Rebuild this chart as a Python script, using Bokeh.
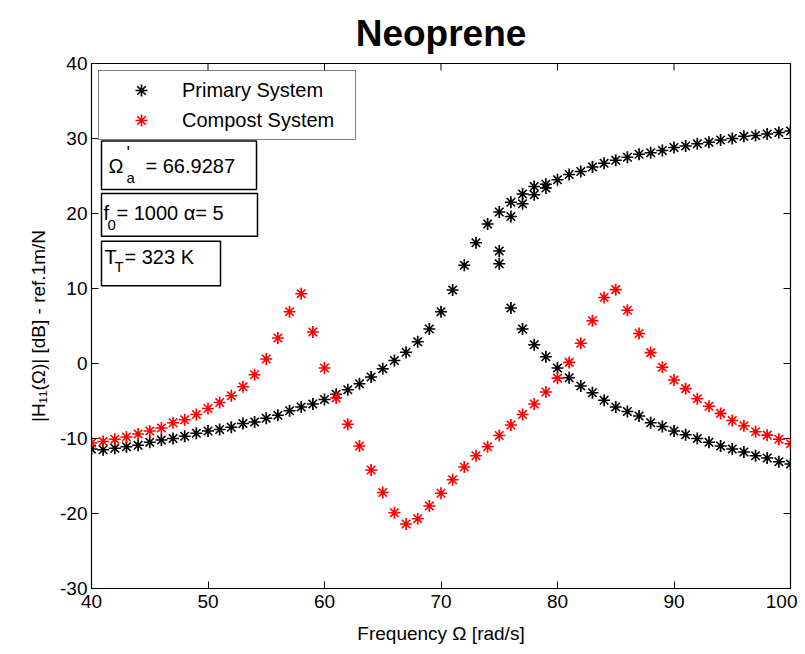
from bokeh.plotting import figure
from bokeh.models import (Range1d, FixedTicker, Legend, LegendItem,
                          BoxAnnotation, Label)
from bokeh.embed import file_html
from bokeh.resources import INLINE

# ---------------- data ----------------
freq = list(range(40, 101))

primary_main = [-11.4, -11.5, -11.3, -11.1, -10.9, -10.5, -10.2, -10.0, -9.7, -9.3,
                -9.0, -8.8, -8.5, -8.0, -7.8, -7.3, -6.9, -6.3, -5.8, -5.4,
                -4.8, -4.1, -3.5, -2.7, -1.8, -0.7, 0.4, 1.5, 2.9, 4.6,
                6.9, 9.8, 13.1, 16.1, 18.6, 20.2, 21.5, 22.6, 23.6, 23.9,
                24.5, 25.2, 25.6, 26.2, 26.7, 27.1, 27.5, 27.9, 28.1, 28.4,
                28.8, 29.0, 29.3, 29.5, 29.8, 30.0, 30.3, 30.4, 30.6, 30.8,
                31.0]

primary_mid_freq = [75, 76, 77, 78, 79]
primary_mid = [15.0, 19.6, 21.3, 22.5, 23.4]

primary_low_freq = list(range(75, 101))
primary_low = [13.3, 7.4, 4.6, 2.5, 0.9, -0.6, -1.9, -3.0, -3.9, -4.9,
               -5.8, -6.4, -7.0, -7.9, -8.4, -9.0, -9.5, -10.0, -10.5, -11.0,
               -11.4, -11.8, -12.3, -12.6, -13.1, -13.4]

compost = [-10.6, -10.4, -10.1, -9.8, -9.4, -9.0, -8.6, -7.9, -7.5, -6.8,
           -6.0, -5.2, -4.3, -3.1, -1.5, 0.6, 3.4, 6.9, 9.3, 4.2,
           -0.6, -4.6, -8.1, -11.0, -14.2, -17.2, -19.9, -21.4, -20.7, -19.0,
           -17.3, -15.5, -13.8, -12.3, -11.1, -9.6, -8.2, -6.8, -5.4, -3.8,
           -1.95, 0.15, 2.7, 5.7, 8.8, 9.85, 7.1, 4.0, 1.45, -0.5,
           -2.2, -3.35, -4.7, -5.7, -6.65, -7.6, -8.3, -9.1, -9.55, -10.1,
           -10.7]

x_ticks = [40, 50, 60, 70, 80, 90, 100]
y_ticks = [-30, -20, -10, 0, 10, 20, 30, 40]

title_text = "Neoprene"
x_label = "Frequency Ω [rad/s]"
y_label = "|H₁₁(Ω)| [dB] - ref.1m/N"
legend_labels = ["Primary System", "Compost System"]

# ---------------- layout helpers (screen px -> data) ----------------
FX0, FX1, FY0, FY1 = 91, 790, 60, 589
X_MIN, X_MAX, Y_MIN, Y_MAX = 40, 100, -30, 40
TICK = 7


def dx(px):
    return X_MIN + (px - FX0) * (X_MAX - X_MIN) / (FX1 - FX0)


def dy(py):
    return Y_MAX - (py - FY0) * (Y_MAX - Y_MIN) / (FY1 - FY0)


FONT = "Liberation Sans"

p = figure(width=797, height=646, output_backend="svg", toolbar_location=None,
           x_range=Range1d(X_MIN, X_MAX), y_range=Range1d(Y_MIN, Y_MAX),
           min_border_left=FX0, min_border_right=797 - FX1, min_border_top=FY0,
           min_border_bottom=646 - FY1)
p.grid.visible = False
p.outline_line_color = "black"
p.outline_line_width = 1.2
p.background_fill_color = "white"
p.border_fill_color = "white"

p.title.text = title_text
p.title.text_font = FONT
p.title.text_font_size = "37px"
p.title.text_font_style = "bold"
p.title.align = "center"
p.title.text_color = "black"
p.title.standoff = 20

for ax, ticks in ((p.xaxis[0], x_ticks), (p.yaxis[0], y_ticks)):
    ax.ticker = FixedTicker(ticks=ticks)
    ax.major_label_overrides = {t: str(t) for t in ticks}
    ax.major_tick_in = TICK
    ax.major_tick_out = 0
    ax.minor_tick_line_color = None
    ax.major_label_text_font = FONT
    ax.major_label_text_font_size = "19px"
    ax.major_label_text_color = "black"
    ax.axis_line_color = "black"
    ax.major_tick_line_color = "black"
    ax.axis_label_text_font = FONT
    ax.axis_label_text_font_size = "19px"
    ax.axis_label_text_font_style = "normal"
    ax.axis_label_text_color = "black"
p.xaxis[0].major_label_standoff = 6
p.yaxis[0].major_label_standoff = 4
p.xaxis[0].axis_label = x_label
p.yaxis[0].axis_label = y_label
p.xaxis[0].axis_label_standoff = 12
p.yaxis[0].axis_label_standoff = 8

# inward ticks on the right and top edges of the box
p.segment(x0=[X_MAX] * len(y_ticks), y0=y_ticks, x1=[dx(FX1 - TICK)] * len(y_ticks),
          y1=y_ticks, line_color="black", line_width=1)
p.segment(x0=x_ticks, y0=[Y_MAX] * len(x_ticks), x1=x_ticks,
          y1=[dy(FY0 + TICK)] * len(x_ticks), line_color="black", line_width=1)

r1 = p.scatter(freq, primary_main, marker="asterisk", size=12, line_color="black",
               line_width=1.7)
p.scatter(primary_mid_freq, primary_mid, marker="asterisk", size=12, line_color="black",
          line_width=1.7)
p.scatter(primary_low_freq, primary_low, marker="asterisk", size=12, line_color="black",
          line_width=1.7)
r2 = p.scatter(freq, compost, marker="asterisk", size=12, line_color="#ff0000",
               line_width=1.7)

legend = Legend(items=[LegendItem(label=legend_labels[0], renderers=[r1]),
                       LegendItem(label=legend_labels[1], renderers=[r2])],
                location="top_left", margin=7, padding=4, spacing=0,
                glyph_height=30, glyph_width=76, label_standoff=3,
                label_height=30, label_width=169,
                label_text_font=FONT, label_text_font_size="20px",
                label_text_color="black",
                border_line_color="black", border_line_width=1.5,
                background_fill_color="white", background_fill_alpha=1.0)
p.add_layout(legend, "center")

# info boxes
for (l, t, r, b) in ((101, 138, 256, 187), (101, 191, 257, 234), (101, 239, 220, 284)):
    p.add_layout(BoxAnnotation(left=dx(l), right=dx(r), top=dy(t), bottom=dy(b),
                               fill_color="white", fill_alpha=1.0,
                               line_color="black", line_width=1.5, line_alpha=1.0))


def lab(text, px, py, size="20px", align="left", style="normal"):
    p.add_layout(Label(x=dx(px), y=dy(py), text=text, text_font=FONT,
                       text_font_size=size, text_align=align, text_baseline="middle",
                       text_font_style=style, text_color="black"))


lab("Ω", 108, 163)
lab("'", 126, 150, size="18px")
lab("a", 126, 175, size="15px")
lab("= 66.9287", 145, 163)

lab("f", 103, 211)
lab("0", 107, 223, size="15px")
lab("= 1000 α= 5", 116, 211)

lab("T", 104, 255)
lab("T", 114, 265, size="15px")
lab("= 323 K", 124, 255)

open("out.html", "w").write(file_html(p, INLINE))
